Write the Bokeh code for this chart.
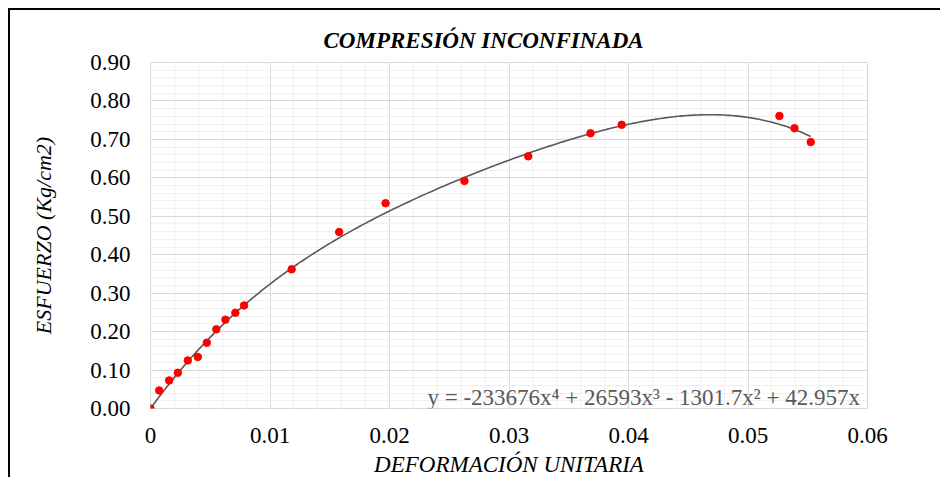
import numpy as np
from bokeh.plotting import figure
from bokeh.models import Range1d, FixedTicker, NumeralTickFormatter, Label, Title
from bokeh.embed import file_html
from bokeh.resources import INLINE

# ---- data ----
deformacion = [0.0, 0.00073, 0.00156, 0.00229, 0.00312, 0.00396, 0.00471, 0.00551,
               0.00627, 0.0071, 0.00783, 0.01181, 0.01579, 0.01967, 0.02627, 0.03161,
               0.03682, 0.03943, 0.05263, 0.05389, 0.05525]
esfuerzo = [0.0, 0.047, 0.073, 0.093, 0.125, 0.134, 0.171, 0.206, 0.231, 0.249, 0.268,
            0.362, 0.459, 0.534, 0.592, 0.656, 0.716, 0.738, 0.761, 0.729, 0.693]
# polynomial trendline shown on the chart (x^4, x^3, x^2, x, const)
trend_coef = [-233676, 26593, -1301.7, 42.957, 0.0]
trend_label = "y = -233676x\u2074 + 26593x\u00b3 - 1301.7x\u00b2 + 42.957x"
x_ticks = [0, 0.01, 0.02, 0.03, 0.04, 0.05, 0.06]
y_ticks = [0.0, 0.1, 0.2, 0.3, 0.4, 0.5, 0.6, 0.7, 0.8, 0.9]
x_minor = [round(i * 0.002, 4) for i in range(31)]
y_minor = [round(i * 0.02, 2) for i in range(46)]

title_text = "COMPRESIÓN INCONFINADA"
x_label = "DEFORMACIÓN UNITARIA"
y_label = "ESFUERZO (Kg/cm2)"

FONT = "Liberation Serif"

p = figure(width=932, height=469, output_backend="svg", toolbar_location=None,
           x_range=Range1d(0, 0.06), y_range=Range1d(0, 0.9),
           min_border_left=140, min_border_top=52, min_border_right=75,
           min_border_bottom=70)
p.styles = {"margin-left": "8px", "margin-top": "8px",
            "border-left": "2px solid #000000", "border-top": "2px solid #000000"}

t = Title(text=title_text, align="left", offset=173, standoff=19,
          text_font=FONT, text_font_size="23px", text_font_style="bold italic",
          text_color="#000000")
p.add_layout(t, "above")

p.outline_line_color = "#d9d9d9"
p.background_fill_color = "white"
p.border_fill_color = "white"

p.xaxis.ticker = FixedTicker(ticks=x_ticks, minor_ticks=x_minor)
p.yaxis.ticker = FixedTicker(ticks=y_ticks, minor_ticks=y_minor)
p.xaxis.formatter = NumeralTickFormatter(format="0.[00]")
p.yaxis.formatter = NumeralTickFormatter(format="0.00")

for ax in (p.xaxis[0], p.yaxis[0]):
    ax.axis_line_color = None
    ax.major_tick_line_color = None
    ax.minor_tick_line_color = None
    ax.major_label_text_font = FONT
    ax.major_label_text_font_size = "23px"
    ax.major_label_text_color = "#000000"
    ax.axis_label_text_font = FONT
    ax.axis_label_text_font_style = "italic"
    ax.axis_label_text_color = "#000000"

p.xaxis.axis_label = x_label
p.yaxis.axis_label = y_label
p.xaxis.axis_label_text_font_size = "23px"
p.yaxis.axis_label_text_font_size = "22px"
p.xaxis.major_label_standoff = 13
p.xaxis.axis_label_standoff = 6
p.yaxis.major_label_standoff = 14
p.yaxis.axis_label_standoff = 31

for g in (p.xgrid[0], p.ygrid[0]):
    g.grid_line_color = "#d9d9d9"
    g.grid_line_width = 1
    g.minor_grid_line_color = "#f0f0f0"
    g.minor_grid_line_width = 1

xs = np.linspace(0, max(deformacion), 300)
ys = np.polyval(trend_coef, xs)
p.line(xs, ys, line_color="#595959", line_width=1.6)

p.scatter(deformacion, esfuerzo, size=7.5, fill_color="#ff0000", line_color="#ff0000")

eq = Label(x=0.05937, y=0.0293, text=trend_label, text_align="right",
           text_baseline="alphabetic", text_font=FONT, text_font_size="23px",
           text_color="#595959")
p.add_layout(eq)

open("out.html", "w").write(file_html(p, INLINE))
